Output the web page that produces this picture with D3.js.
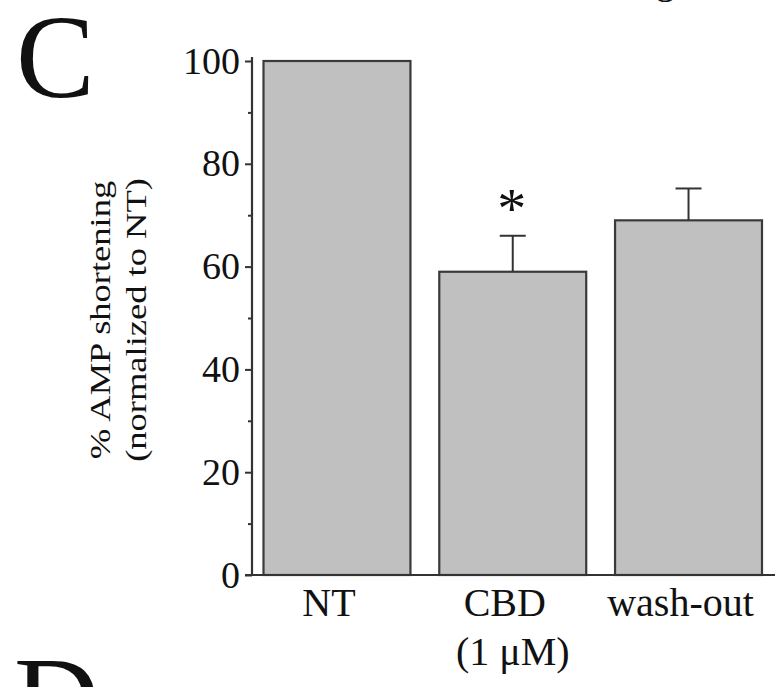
<!DOCTYPE html>
<html>
<head>
<meta charset="utf-8">
<script src="https://cdn.jsdelivr.net/npm/d3@7"></script>
<style>
	body { margin: 0; background: #fff; }
	text { font-family: "Liberation Serif", "Times New Roman", serif; fill: #111; }
</style>
</head>
<body>
<div id="chart"></div>
<script>
// Data
var groups = ["NT", "CBD", "wash-out"];
var groupSub = ["", "(1 \u03bcM)", ""];
var means = [100, 59, 69];
var errUp = [0, 7, 6.2];
var signif = ["", "*", ""];
var yTicks = [0, 20, 40, 60, 80, 100];
var yMinor = [10, 30, 50, 70, 90];

var W = 782, H = 687;
var axisCol = "#333";

var svg = d3.select("#chart")
	.append("svg")
	.attr("width", W)
	.attr("height", H);

// scales
var y = d3.scaleLinear().domain([0, 100]).range([575, 61]);
var x = d3.scaleBand().domain(groups).range([263.5, 762]).paddingInner(0.164).paddingOuter(0);
var axisX = 252;

// panel letters
svg.append("text")
	.attr("x", 16)
	.attr("y", 97)
	.style("font-size", "118px")
	.text("C");
svg.append("text")
	.attr("x", 14)
	.attr("y", 739)
	.style("font-size", "118px")
	.text("D");
svg.append("text")
	.attr("x", 622)
	.attr("y", -7)
	.style("font-size", "40px")
	.text("Figure 4");

// bars
var rows = groups.map(function (g, i) {
	return { name: g, sub: groupSub[i], value: means[i], err: errUp[i], mark: signif[i] };
});

svg.selectAll("rect.bar")
	.data(rows)
	.enter()
	.append("rect")
	.attr("class", "bar")
	.attr("x", function (d) { return x(d.name); })
	.attr("y", function (d) { return y(d.value); })
	.attr("width", x.bandwidth())
	.attr("height", function (d) { return y(0) - y(d.value); })
	.attr("fill", "#c0c0c0")
	.attr("stroke", "#3a3a3a")
	.attr("stroke-width", 2.2);

// error bars (upper only)
var eb = svg.selectAll("g.err")
	.data(rows.filter(function (d) { return d.err > 0; }))
	.enter()
	.append("g")
	.attr("class", "err");
eb.append("line")
	.attr("x1", function (d) { return x(d.name) + x.bandwidth() / 2; })
	.attr("x2", function (d) { return x(d.name) + x.bandwidth() / 2; })
	.attr("y1", function (d) { return y(d.value); })
	.attr("y2", function (d) { return y(d.value + d.err); })
	.attr("stroke", axisCol)
	.attr("stroke-width", 2);
eb.append("line")
	.attr("x1", function (d) { return x(d.name) + x.bandwidth() / 2 - 13; })
	.attr("x2", function (d) { return x(d.name) + x.bandwidth() / 2 + 13; })
	.attr("y1", function (d) { return y(d.value + d.err); })
	.attr("y2", function (d) { return y(d.value + d.err); })
	.attr("stroke", axisCol)
	.attr("stroke-width", 2);

// significance star
svg.selectAll("text.star")
	.data(rows.filter(function (d) { return d.mark; }))
	.enter()
	.append("text")
	.attr("class", "star")
	.attr("x", function (d) { return x(d.name) + x.bandwidth() / 2 - 1; })
	.attr("y", function (d) { return y(d.value + d.err) - 8; })
	.attr("text-anchor", "middle")
	.style("font-size", "58px")
	.text(function (d) { return d.mark; });

// Y axis
var yAxis = svg.append("g")
	.attr("transform", "translate(" + axisX + ",0)")
	.call(d3.axisLeft(y).tickValues(yTicks).tickSize(7).tickPadding(5).tickFormat(d3.format("d")));
yAxis.select(".domain").remove();
yAxis.selectAll("line").attr("stroke", axisCol).attr("stroke-width", 2);
yAxis.selectAll("text")
	.style("font-size", "38px")
	.style("font-family", "Liberation Serif, serif")
	.attr("fill", "#111");

var yAxisMinor = svg.append("g")
	.attr("transform", "translate(" + axisX + ",0)")
	.call(d3.axisLeft(y).tickValues(yMinor).tickSize(4).tickFormat(""));
yAxisMinor.select(".domain").remove();
yAxisMinor.selectAll("line").attr("stroke", axisCol).attr("stroke-width", 2);

svg.append("line")
	.attr("x1", axisX).attr("x2", axisX)
	.attr("y1", y(0)).attr("y2", y(100) - 4)
	.attr("stroke", axisCol)
	.attr("stroke-width", 2.2);

// X axis line (no ticks)
var xAxis = svg.append("g")
	.attr("transform", "translate(0," + y(0) + ")")
	.call(d3.axisBottom(x).tickSize(0).tickFormat(""));
xAxis.select(".domain")
	.attr("d", "M" + (axisX - 7) + ",0H775")
	.attr("stroke", axisCol)
	.attr("stroke-width", 2.2);

// category labels
var lab = svg.selectAll("text.cat")
	.data(rows)
	.enter()
	.append("text")
	.attr("class", "cat")
	.attr("text-anchor", "middle")
	.style("font-size", "40px");
lab.append("tspan")
	.attr("x", function (d) { return x(d.name) + x.bandwidth() / 2 - 8; })
	.attr("y", 616)
	.text(function (d) { return d.name; });
lab.append("tspan")
	.attr("x", function (d) { return x(d.name) + x.bandwidth() / 2; })
	.attr("y", 665)
	.text(function (d) { return d.sub; });

// Y title, two lines
var yMid = (y(0) + y(100)) / 2 + 2;
svg.append("text")
	.attr("transform", "translate(110," + yMid + ") scale(0.82,1) rotate(-90)")
	.attr("text-anchor", "middle")
	.style("font-size", "36.5px")
	.text("% AMP shortening");
svg.append("text")
	.attr("transform", "translate(146," + yMid + ") scale(0.82,1) rotate(-90)")
	.attr("text-anchor", "middle")
	.style("font-size", "36.5px")
	.text("(normalized to NT)");
</script>
</body>
</html>
